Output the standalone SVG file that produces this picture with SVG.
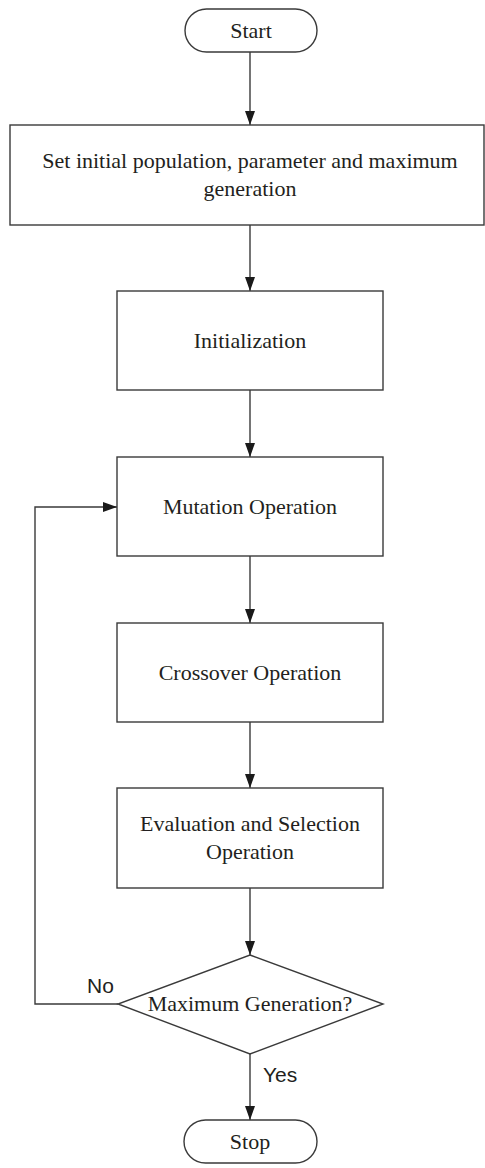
<svg xmlns="http://www.w3.org/2000/svg" width="485" height="1168" viewBox="0 0 485 1168">
<style>
.shape{fill:#fff;stroke:#3a3a3a;stroke-width:1.4}
.t{font-family:"Liberation Serif","Times New Roman",serif;font-size:22px;fill:#231f20;text-anchor:middle}
.lbl{font-family:"Liberation Sans",Arial,sans-serif;font-size:21px;fill:#231f20}
.conn{fill:none;stroke:#3a3a3a;stroke-width:1.4}
</style>
<defs>
<marker id="arr" viewBox="0 0 14 10" refX="14" refY="5" markerWidth="14" markerHeight="10" markerUnits="userSpaceOnUse" orient="auto">
<path d="M0,0 L14,5 L0,10 Z" fill="#1a1a1a"/>
</marker>
</defs>
<rect width="485" height="1168" fill="#fff"/>
<g id="connectors">
<line class="conn" x1="250" y1="52" x2="250" y2="125" marker-end="url(#arr)"/>
<line class="conn" x1="250" y1="225" x2="250" y2="291" marker-end="url(#arr)"/>
<line class="conn" x1="250" y1="390" x2="250" y2="457" marker-end="url(#arr)"/>
<line class="conn" x1="250" y1="556" x2="250" y2="623" marker-end="url(#arr)"/>
<line class="conn" x1="250" y1="722" x2="250" y2="788" marker-end="url(#arr)"/>
<line class="conn" x1="250" y1="888" x2="250" y2="955" marker-end="url(#arr)"/>
<line class="conn" x1="250" y1="1054" x2="250" y2="1120" marker-end="url(#arr)"/>
<polyline class="conn" points="118,1004 35,1004 35,507 117,507" marker-end="url(#arr)"/>
<text class="lbl" x="87" y="993">No</text>
<text class="lbl" x="263" y="1082">Yes</text>
</g>
<g id="start">
<rect class="shape" x="185" y="9" width="132" height="43" rx="21.5" ry="21.5"/>
<text class="t" x="251" y="38">Start</text>
</g>
<g id="setup">
<rect class="shape" x="10" y="125" width="474" height="100"/>
<text class="t" x="250" y="168">Set initial population, parameter and maximum</text>
<text class="t" x="250" y="196">generation</text>
</g>
<g id="init">
<rect class="shape" x="117" y="291" width="266" height="99"/>
<text class="t" x="250" y="348">Initialization</text>
</g>
<g id="mutation">
<rect class="shape" x="117" y="457" width="266" height="99"/>
<text class="t" x="250" y="514">Mutation Operation</text>
</g>
<g id="crossover">
<rect class="shape" x="117" y="623" width="266" height="99"/>
<text class="t" x="250" y="680">Crossover Operation</text>
</g>
<g id="evaluation">
<rect class="shape" x="117" y="788" width="266" height="100"/>
<text class="t" x="250" y="831">Evaluation and Selection</text>
<text class="t" x="250" y="859">Operation</text>
</g>
<g id="decision">
<polygon class="shape" points="250,955 383,1004 250,1054 118,1004"/>
<text class="t" x="250" y="1011">Maximum Generation?</text>
</g>
<g id="stop">
<rect class="shape" x="184" y="1120" width="133" height="43" rx="21.5" ry="21.5"/>
<text class="t" x="250" y="1149">Stop</text>
</g>
</svg>
